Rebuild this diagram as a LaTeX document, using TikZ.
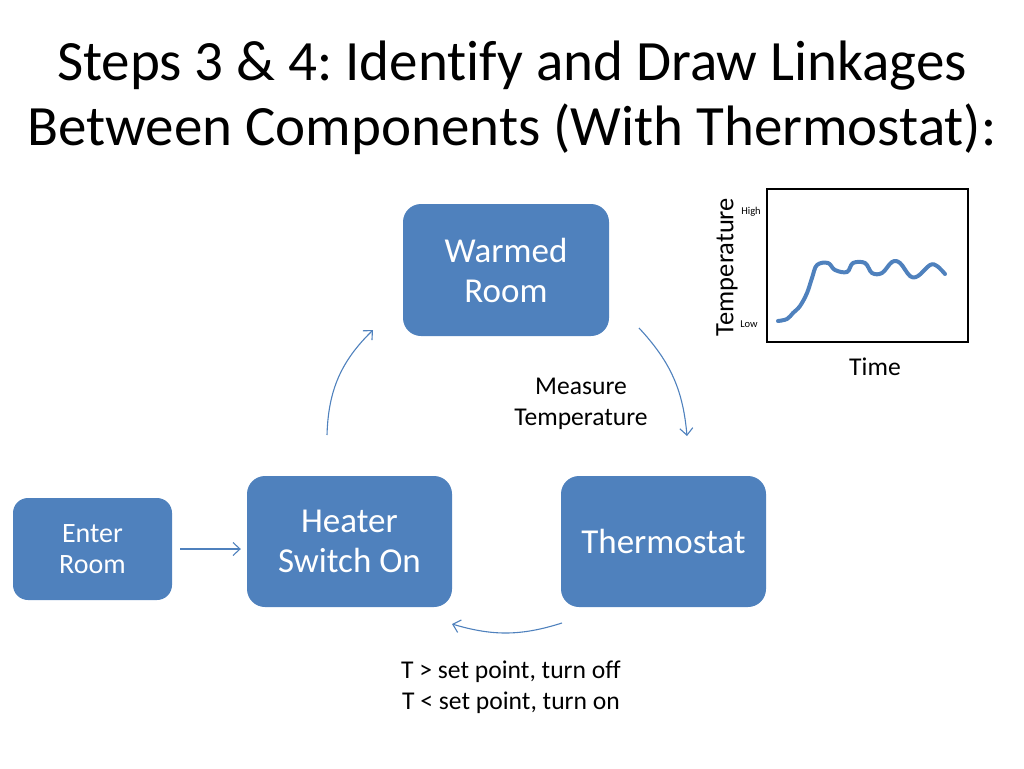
\documentclass[tikz,border=0pt]{standalone}
\usepackage{fontspec}
\setmainfont{Carlito}[Ligatures=NoCommon]
\usetikzlibrary{positioning,arrows.meta,calc}
\definecolor{officeblue}{HTML}{4F81BD}
\frenchspacing

\begin{document}
\begin{tikzpicture}[x=1pt, y=-1pt, >={Straight Barb[length=7pt,width=13pt]},
    box/.style={rectangle, rounded corners=18pt, fill=officeblue, text=white,
      align=center, font=\fontsize{35}{40}\selectfont},
    link/.style={->, officeblue, line width=1.1pt},
    note/.style={align=center, font=\fontsize{25.6}{31}\selectfont}]
    \useasboundingbox (0,0) rectangle (1024,768);

    \node[align=center, font=\fontsize{57}{65}\selectfont] (title) at (512,98)
      {Steps 3 \& 4: Identify and Draw Linkages\\Between Components (With Thermostat):};

    \node[box, minimum width=206pt, minimum height=132pt] (warm) at (506,270) {Warmed\\Room};
    \node[box, minimum width=205pt, minimum height=131pt] (heater) at (349.5,541.5) {Heater\\Switch On};
    \node[box, minimum width=205pt, minimum height=131pt] (thermo) at (663.5,541.5) {Thermostat};
    \node[box, minimum width=159pt, minimum height=102pt, rounded corners=15pt,
      font=\fontsize{28}{31}\selectfont] (enter) at (92.5,549) {Enter\\Room};

    \node[note] (measure) at (581,404) {Measure\\Temperature};
    \node[note] (rule) at (511,687) {T > set point, turn off\\T < set point, turn on};

    % loop round the three boxes
    \coordinate (h1) at (327,435);
    \coordinate (w1) at (373,330);
    \coordinate (w2) at (639,328);
    \coordinate (t1) at (687,436);
    \coordinate (t2) at (562,623);
    \coordinate (h2) at (452,624);
    \draw[link] (h1) to[bend left=22] (w1);
    \draw[link] (w2) to[bend left=19] (t1);
    \draw[link] (t2) to[bend left=17] (h2);
    \draw[link] (enter.east) ++(8pt,0) coordinate (e1) (e1) -- ($(heater.west)+(-6,7.5)$);

    % small chart
    \node[draw, line width=2pt, minimum width=201pt, minimum height=153pt] (chart) at (867.5,265.5) {};
    \node[rotate=90, font=\fontsize{26.5}{31}\selectfont] (templbl) at (727,267) {Temperature};
    \node[font=\fontsize{10.5}{11}\selectfont] (high) at (751,212) {High};
    \node[font=\fontsize{10.5}{11}\selectfont] (low) at (749,324) {Low};
    \node[font=\fontsize{25.6}{31}\selectfont] (time) at (875,367) {Time};
    \draw[officeblue, line width=4pt, line cap=round, line join=round] plot[smooth, tension=0.6] coordinates {
      (778,321) (787,319) (793,313) (800,306) (807,293) (812,278) (817,265)
      (828,263) (835,270) (847,272) (853,263) (865,263) (872,273) (882,273)
      (892,262) (900,263) (910,276) (918,276) (930,265) (937,266) (945,274)};
\end{tikzpicture}
\end{document}
